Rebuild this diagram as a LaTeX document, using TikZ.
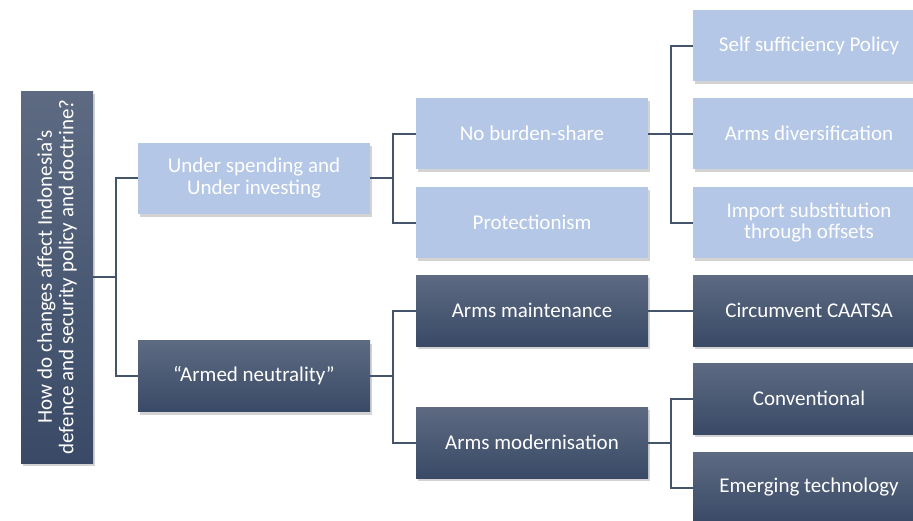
\documentclass[tikz,border=0pt]{standalone}
\usepackage{fontspec}
\setmainfont{Carlito}
\usetikzlibrary{shadows}
\definecolor{lightfill}{HTML}{B4C7E7}
\definecolor{darktop}{HTML}{5D6A82}
\definecolor{darkbot}{HTML}{3A4A66}
\definecolor{linkcol}{HTML}{44546A}
\tikzset{
  box/.style={
    rectangle, minimum width=232pt, minimum height=71pt, inner sep=2pt, align=center,
    text=white, font=\fontsize{21}{21.5}\selectfont,
    drop shadow={opacity=0.35, shadow xshift=2pt, shadow yshift=-3pt}
  },
  lightbox/.style={box, fill=lightfill},
  darkbox/.style={box, top color=darktop, bottom color=darkbot},
  link/.style={draw=linkcol, line width=2pt}
}

\begin{document}
\begin{tikzpicture}[x=1pt, y=-1pt]
 \useasboundingbox (0,0) rectangle (913,520);
 \clip (0,0) rectangle (913,520);

 \node[darkbox, minimum width=372pt, minimum height=72pt, rotate=90] (ques) at (57,277)
   {How do changes affect Indonesia’s\\defence and security policy and doctrine?};

 \node[lightbox] (under) at (254,178) {Under spending and\\Under investing};
 \node[darkbox] (armed) at (254,376) {“Armed neutrality”};

 \node[lightbox] (burden) at (532,133.5) {No burden-share};
 \node[lightbox] (protect) at (532,222.5) {Protectionism};
 \node[darkbox] (maint) at (532,310.5) {Arms maintenance};
 \node[darkbox] (modern) at (532,442.5) {Arms modernisation};

 \node[lightbox] (selfsuf) at (809,45.5) {Self sufficiency Policy};
 \node[lightbox] (divers) at (809,133.5) {Arms diversification};
 \node[lightbox] (import) at (809,222.5) {Import substitution\\through offsets};
 \node[darkbox] (caatsa) at (809,310.5) {Circumvent CAATSA};
 \node[darkbox] (conv) at (809,398.5) {Conventional};
 \node[darkbox] (emerg) at (809,487.5) {Emerging technology};

 \draw[link] (ques.south) -- +(23,0) |- (under.west);
 \draw[link] (ques.south) -- +(23,0) |- (armed.west);
 \draw[link] (under.east) -- +(23,0) |- (burden.west);
 \draw[link] (under.east) -- +(23,0) |- (protect.west);
 \draw[link] (armed.east) -- +(23,0) |- (maint.west);
 \draw[link] (armed.east) -- +(23,0) |- (modern.west);
 \draw[link] (burden.east) -- +(23,0) |- (selfsuf.west);
 \draw[link] (burden.east) -- (divers.west);
 \draw[link] (burden.east) -- +(23,0) |- (import.west);
 \draw[link] (maint.east) -- (caatsa.west);
 \draw[link] (modern.east) -- +(23,0) |- (conv.west);
 \draw[link] (modern.east) -- +(23,0) |- (emerg.west);
\end{tikzpicture}
\end{document}
